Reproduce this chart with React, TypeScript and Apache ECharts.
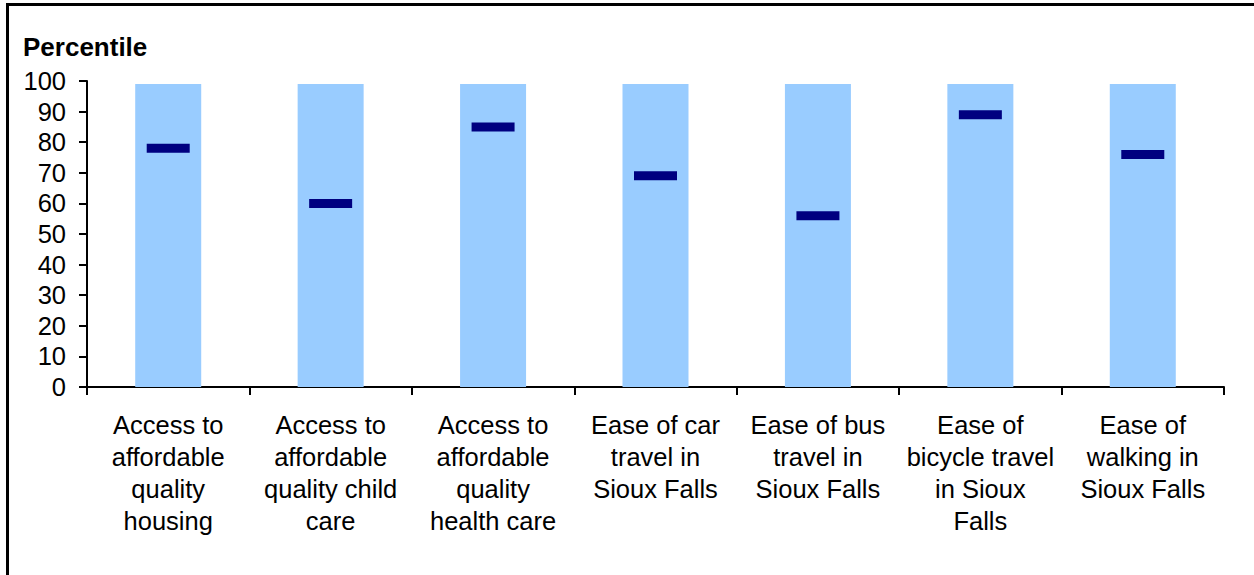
import React, { useEffect, useRef } from "react";
import * as echarts from "echarts";

const categories = [
  "Access to\naffordable\nquality\nhousing",
  "Access to\naffordable\nquality child\ncare",
  "Access to\naffordable\nquality\nhealth care",
  "Ease of car\ntravel in\nSioux Falls",
  "Ease of bus\ntravel in\nSioux Falls",
  "Ease of\nbicycle travel\nin Sioux\nFalls",
  "Ease of\nwalking in\nSioux Falls",
];
const rangeMax = [99, 99, 99, 99, 99, 99, 99];
const percentile = [78, 60, 85, 69, 56, 89, 76];
const yTicks = { min: 0, max: 100, interval: 10 };

const FONT = 'Arial, "Liberation Sans", sans-serif';

export default function App() {
  const ref = useRef<HTMLDivElement>(null);
  useEffect(() => {
    document.body.style.margin = "0";
    const chart = echarts.init(ref.current!, undefined, { renderer: "svg" });
    chart.setOption({
      animation: false,
      textStyle: { fontFamily: FONT },
      grid: { left: 87, top: 81, right: 30, bottom: 188, containLabel: false },
      graphic: [
        {
          type: "rect",
          shape: { x: 7.5, y: 4.5, width: 1270, height: 600 },
          style: { fill: "none", stroke: "#000", lineWidth: 3 },
          silent: true,
        },
        {
          type: "text",
          left: 23,
          top: 34,
          style: {
            text: "Percentile",
            font: `bold 26px ${FONT}`,
            fill: "#000",
          },
        },
      ],
      xAxis: {
        type: "category",
        data: categories,
        boundaryGap: true,
        axisLine: { lineStyle: { color: "#000", width: 2 } },
        axisTick: { show: true, length: 8, lineStyle: { color: "#000", width: 2 }, interval: 0 },
        axisLabel: {
          interval: 0,
          color: "#000",
          fontSize: 25.5,
          lineHeight: 32,
          margin: 22,
          fontFamily: FONT,
        },
      },
      yAxis: {
        type: "value",
        min: yTicks.min,
        max: yTicks.max,
        interval: yTicks.interval,
        splitLine: { show: false },
        axisLine: { show: true, lineStyle: { color: "#000", width: 2 } },
        axisTick: { show: true, length: 8, lineStyle: { color: "#000", width: 2 } },
        axisLabel: { color: "#000", fontSize: 25.5, margin: 21, fontFamily: FONT },
      },
      series: [
        {
          type: "bar",
          data: rangeMax,
          barWidth: 66,
          itemStyle: { color: "#99CCFF" },
          silent: true,
        },
        {
          type: "scatter",
          data: percentile,
          symbol: "rect",
          symbolSize: [43, 9],
          itemStyle: { color: "#000080", opacity: 1 },
          z: 5,
          silent: true,
        },
      ],
    });
    return () => chart.dispose();
  }, []);
  return (
    <div
      ref={ref}
      style={{ position: "absolute", left: 0, top: 0, width: 1254, height: 575, background: "#fff" }}
    />
  );
}
